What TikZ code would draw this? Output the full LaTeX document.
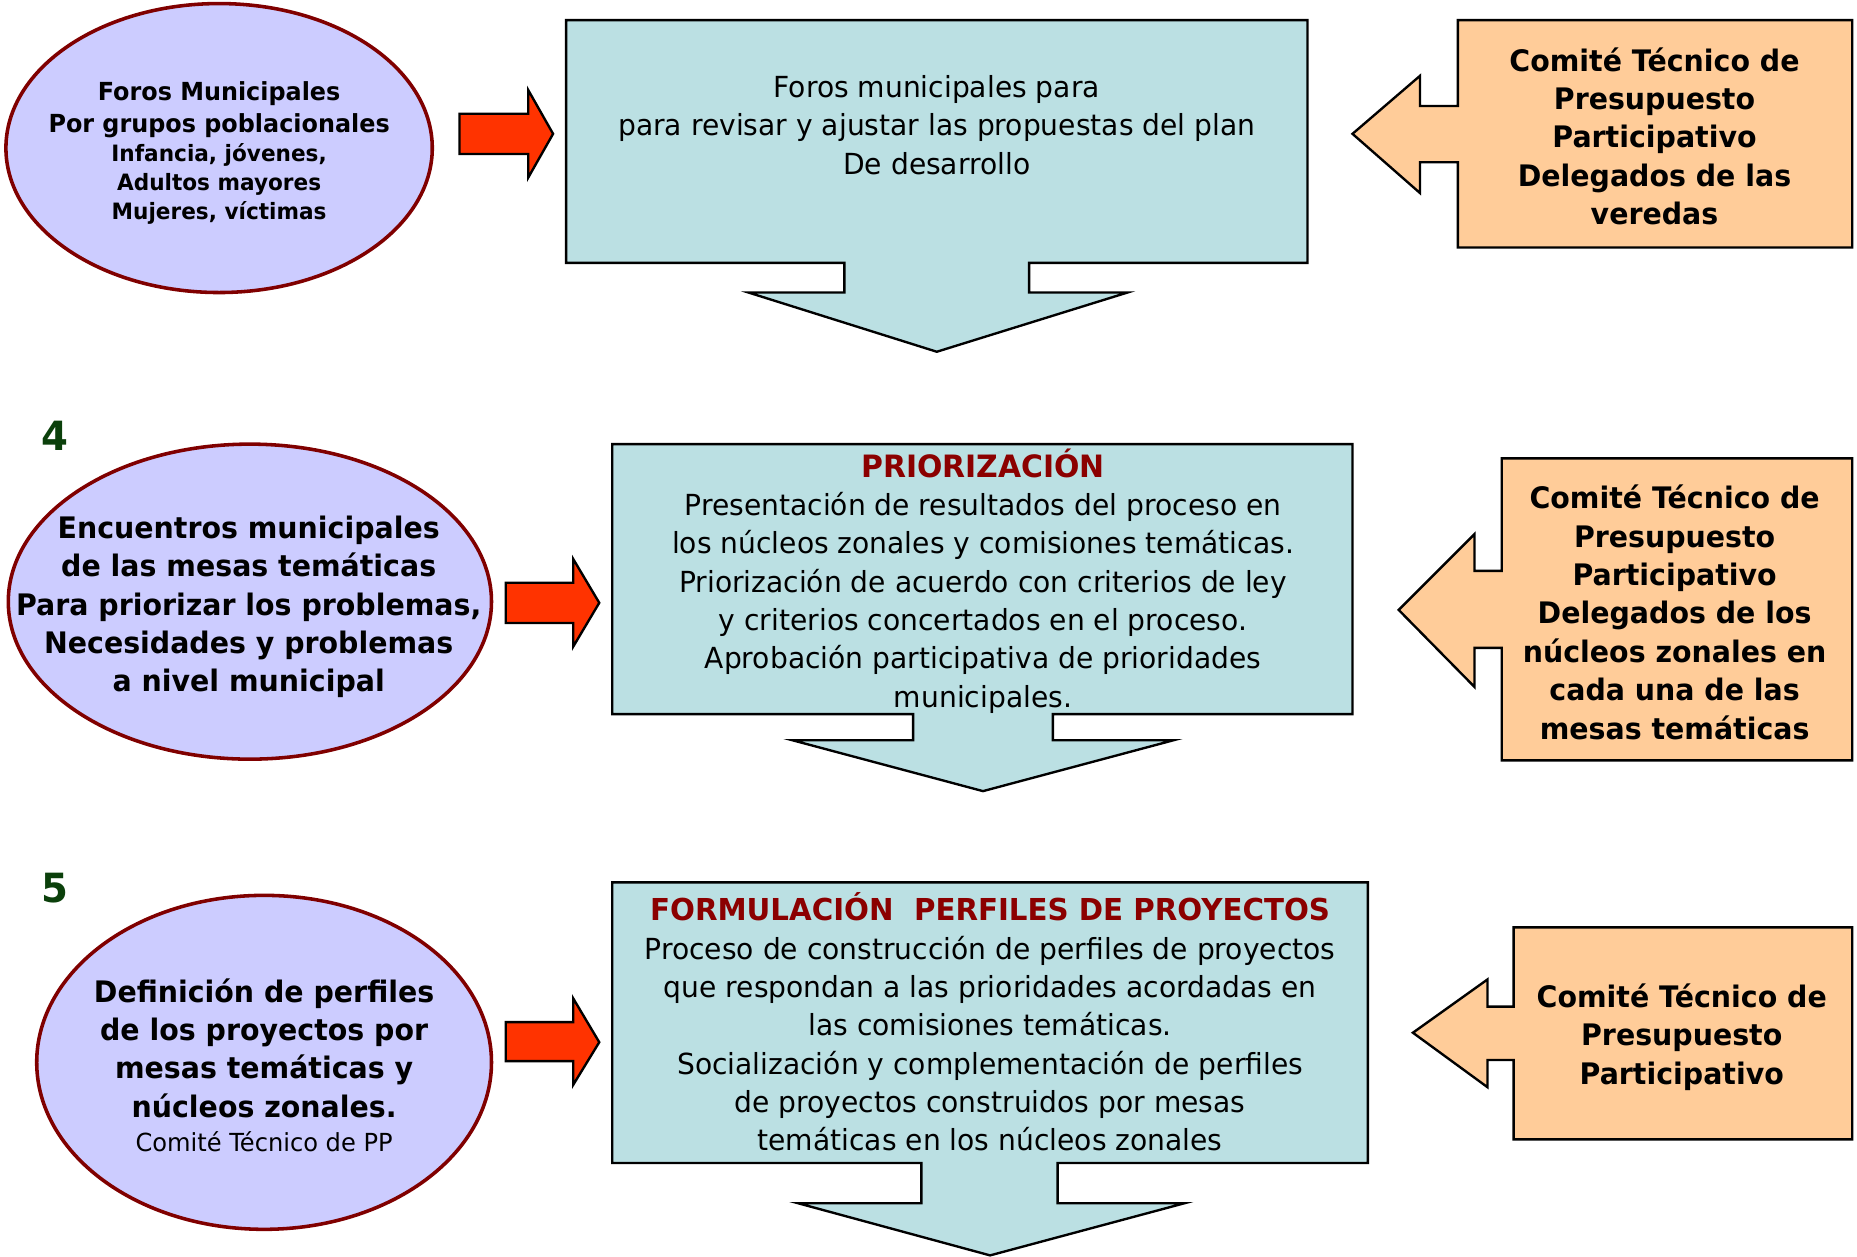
\documentclass[tikz,border=0pt]{standalone}
\usepackage{fontspec}
\setmainfont{DejaVu Sans}
\newfontfamily\regf[FakeStretch=0.97]{DejaVu Sans}
\newfontfamily\bldf[FakeStretch=0.96]{DejaVu Sans}
\usetikzlibrary{shapes.geometric}
\definecolor{ellfill}{HTML}{CCCCFF}
\definecolor{ellline}{HTML}{800000}
\definecolor{boxfill}{HTML}{BBE0E3}
\definecolor{orfill}{HTML}{FFCC99}
\definecolor{redarr}{HTML}{FF3300}
\definecolor{titred}{HTML}{8B0000}
\definecolor{numgreen}{HTML}{0B400B}
\begin{document}
\begin{tikzpicture}[x=1pt,y=-1pt,
  ell/.style={ellipse, draw=ellline, line width=3pt, fill=ellfill, inner sep=0pt},
  flowbox/.style={draw=black, line width=2pt, fill=boxfill, line join=miter},
  sidebox/.style={draw=black, line width=2pt, fill=orfill, line join=miter},
  redarrow/.style={draw=black, line width=2pt, fill=redarr, line join=miter},
  txt/.style={align=center, inner sep=0pt, text=black},
  regtxt/.style={txt, font=\regf\fontsize{24.5}{32.4}\selectfont},
  boldtxt/.style={txt, font=\bldf\bfseries\fontsize{25}{32.4}\selectfont},
  numtxt/.style={inner sep=0pt, text=numgreen, font=\bldf\bfseries\fontsize{34}{36}\selectfont}
]
\useasboundingbox (0,0) rectangle (1568,1061);
\fill[white] (0,0) rectangle (1568,1061);

% ---------------- Row 1 ----------------
\node[ell, minimum width=360, minimum height=244] (e1) at (185,125) {};
\node[txt, font=\bldf\bfseries\fontsize{19}{24.5}\selectfont] (e1t) at (185,129) {\fontsize{21}{24.5}\selectfont Foros Municipales\\[2.5pt]\fontsize{21}{24.5}\selectfont Por grupos poblacionales\\Infancia, jóvenes,\\Adultos mayores\\Mujeres, víctimas};

\draw[redarrow] (388,96) -- (446,96) -- (446,76) -- (467,113) -- (446,150) -- (446,130) -- (388,130) -- cycle;

\draw[flowbox] (478,17) -- (1104,17) -- (1104,222) -- (869,222) -- (869,247) -- (952,247) -- (791,297)
  -- (632,247) -- (713,247) -- (713,222) -- (478,222) -- cycle;
\node[regtxt] (b1t) at (791,105.5) {Foros municipales para\\para revisar y ajustar las propuestas del plan\\De desarrollo};

\draw[sidebox] (1231,17) -- (1564,17) -- (1564,209) -- (1231,209) -- (1231,137) -- (1199,137) -- (1199,163)
  -- (1142,113) -- (1199,64) -- (1199,89.5) -- (1231,89.5) -- cycle;
\node[boldtxt] (c1t) at (1397,115) {Comité Técnico de\\Presupuesto\\Participativo\\Delegados de las\\veredas};

% ---------------- Row 2 ----------------
\node[numtxt] (n4) at (46,368) {4};
\node[ell, minimum width=408, minimum height=266] (e2) at (211,508) {};
\node[boldtxt] (e2t) at (210,512.5) {Encuentros municipales\\de las mesas temáticas\\Para priorizar los problemas,\\Necesidades y problemas\\a nivel municipal};

\draw[redarrow] (427,492) -- (484,492) -- (484,472) -- (506,509) -- (484,546) -- (484,526) -- (427,526) -- cycle;

\draw[flowbox] (517,375) -- (1142,375) -- (1142,603) -- (889,603) -- (889,625) -- (991,625) -- (830,668)
  -- (669,625) -- (771,625) -- (771,603) -- (517,603) -- cycle;
\node[regtxt] (b2t) at (830,490.5) {\textcolor{titred}{\bfseries\fontsize{26}{32.4}\selectfont PRIORIZACIÓN}\\
 Presentación de resultados del proceso en\\los núcleos zonales y comisiones temáticas.\\
 Priorización de acuerdo con criterios de ley\\y criterios concertados en el proceso.\\
 Aprobación participativa de prioridades\\municipales.};

\draw[sidebox] (1268,387) -- (1564,387) -- (1564,642) -- (1268,642) -- (1268,547) -- (1245,547) -- (1245,580)
  -- (1181,515) -- (1245,451) -- (1245,482) -- (1268,482) -- cycle;
\node[boldtxt] (c2t) at (1414,517) {Comité Técnico de\\Presupuesto\\Participativo\\Delegados de los\\núcleos zonales en\\cada una de las\\mesas temáticas};

% ---------------- Row 3 ----------------
\node[numtxt] (n5) at (46,750) {5};
\node[ell, minimum width=384, minimum height=282] (e3) at (223,897) {};
\node[boldtxt] (e3t) at (223,899.5) {Definición de perfiles\\de los proyectos por\\mesas temáticas y\\núcleos zonales.\\[-3pt]\regf\mdseries\fontsize{21}{29}\selectfont Comité Técnico de PP};

\draw[redarrow] (427,863) -- (484,863) -- (484,843) -- (506,880) -- (484,916) -- (484,896) -- (427,896) -- cycle;

\draw[flowbox] (517,745) -- (1155,745) -- (1155,982) -- (893,982) -- (893,1016) -- (1000,1016) -- (836,1060)
  -- (674,1016) -- (778,1016) -- (778,982) -- (517,982) -- cycle;
\node[regtxt] (b3t) at (836,863) {\textcolor{titred}{\bfseries\fontsize{25.5}{32.4}\selectfont FORMULACIÓN\ \ PERFILES DE PROYECTOS}\\
 Proceso de construcción de perfiles de proyectos\\que respondan a las prioridades acordadas en\\
 las comisiones temáticas.\\Socialización y complementación de perfiles\\
 de proyectos construidos por mesas\\temáticas en los núcleos zonales};

\draw[sidebox] (1278,783) -- (1564,783) -- (1564,962) -- (1278,962) -- (1278,895) -- (1256,895) -- (1256,918)
  -- (1193,872) -- (1256,827) -- (1256,850) -- (1278,850) -- cycle;
\node[boldtxt] (c3t) at (1420,875.5) {Comité Técnico de\\Presupuesto\\Participativo};
\end{tikzpicture}
\end{document}
